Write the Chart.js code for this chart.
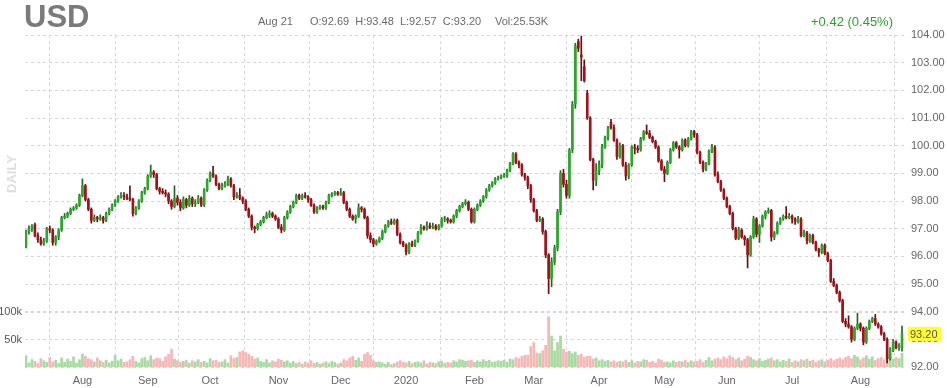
<!DOCTYPE html>
<html>
<head>
<meta charset="utf-8">
<script src="https://cdn.jsdelivr.net/npm/chart.js@4/dist/chart.umd.min.js"></script>
<style>
  html,body{margin:0;padding:0;background:#fff;}
  #wrap{width:947px;height:388px;position:relative;}
</style>
</head>
<body>
<div id="wrap"><canvas id="chart" width="947" height="388"></canvas></div>
<script>
// ── Data (daily candles, Jul 5 2019 → Aug 21 2020) ──
const symbol = 'USD';
const lastDate = 'Aug 21';
const monthNames  = ['Aug','Sep','Oct','Nov','Dec','2020','Feb','Mar','Apr','May','Jun','Jul','Aug'];
const monthStarts = [19,41,62,85,106,128,151,171,193,215,236,258,281];
const priceTicks  = [92,93,94,95,96,97,98,99,100,101,102,103,104];
const volTicks    = [50,100];

const opens = [
96.35,96.90,97.00,97.15,96.75,96.60,96.45,96.55,97.00,96.95,
96.50,96.70,96.95,97.40,97.45,97.55,97.70,97.75,97.85,98.20,
98.55,98.05,97.70,97.30,97.40,97.35,97.40,97.30,97.55,97.70,
97.85,98.00,98.15,98.20,98.15,98.10,98.05,97.55,97.75,98.00,
98.30,98.45,98.90,99.05,98.95,98.45,98.35,98.30,98.25,98.00,
97.80,98.10,97.95,97.75,98.05,97.85,98.10,97.90,97.95,98.10,
97.85,98.40,98.75,99.00,98.90,98.60,98.45,98.55,98.60,98.80,
98.55,98.15,98.20,98.10,98.00,97.70,97.45,97.05,97.00,97.15,
97.25,97.40,97.50,97.55,97.45,97.35,97.05,96.95,97.40,97.60,
97.80,97.95,98.20,98.10,98.20,98.15,98.05,97.85,97.60,97.75,
97.80,97.75,97.95,98.20,98.25,98.30,98.25,98.30,97.95,97.70,
97.45,97.35,97.45,97.75,97.70,97.40,96.75,96.60,96.45,96.55,
96.65,96.90,97.10,97.25,97.20,97.30,96.80,96.50,96.40,96.15,
96.45,96.40,96.55,96.85,97.05,97.00,97.10,97.05,97.10,97.00,
97.10,97.35,97.35,97.30,97.25,97.45,97.65,97.80,97.90,97.95,
97.70,97.25,97.70,97.85,98.00,98.15,98.40,98.55,98.65,98.80,
98.85,98.90,98.90,99.10,99.35,99.70,99.40,99.30,98.95,98.85,
98.55,98.05,97.65,97.30,97.35,96.90,96.05,95.20,95.80,96.30,
97.60,99.00,98.60,98.20,99.85,101.50,103.76,103.28,102.85,101.90,
101.00,99.50,98.75,99.10,99.30,99.95,100.30,100.85,100.65,100.20,
99.60,100.00,99.30,98.90,99.30,99.95,99.90,99.85,100.25,100.50,
100.45,100.30,100.15,99.95,99.45,99.15,99.00,99.40,99.85,100.10,
99.95,99.85,100.20,100.00,100.25,100.50,100.40,99.75,99.40,99.15,
99.35,99.80,99.95,98.95,98.70,98.40,98.10,97.80,97.55,97.00,
96.65,96.95,96.70,96.60,96.05,96.70,97.35,96.80,97.10,97.45,
97.60,97.65,96.70,96.85,97.20,97.35,97.45,97.40,97.45,97.35,
97.25,97.35,96.75,96.85,96.55,96.75,96.50,96.25,96.15,96.40,
96.10,95.85,95.10,94.95,94.70,94.40,93.65,93.55,93.45,93.00,
93.40,93.55,93.40,92.90,93.40,93.65,93.75,93.55,93.45,93.20,
93.00,92.30,92.60,92.90,92.70,92.69
];
const highs = [
96.95,97.10,97.15,97.20,96.85,96.70,96.65,97.05,97.10,97.00,
96.75,97.00,97.45,97.55,97.60,97.75,97.80,97.90,98.25,98.80,
98.60,98.10,97.75,97.50,97.45,97.50,97.45,97.60,97.75,97.90,
98.05,98.20,98.30,98.30,98.25,98.55,98.10,97.80,98.05,98.35,
98.50,98.95,99.30,99.10,99.00,98.50,98.45,98.40,98.30,98.05,
98.55,98.20,98.05,98.15,98.10,98.20,98.15,98.05,98.20,98.15,
98.45,98.80,99.05,99.25,98.95,98.65,98.65,98.70,98.90,98.85,
98.60,98.30,98.45,98.15,98.05,97.75,97.50,97.10,97.20,97.30,
97.45,97.60,97.65,97.60,97.50,97.40,97.15,97.45,97.65,97.85,
98.00,98.25,98.25,98.25,98.30,98.20,98.10,97.90,97.80,97.85,
97.85,98.00,98.25,98.30,98.35,98.35,98.45,98.35,98.00,97.75,
97.50,97.50,97.90,97.80,97.75,97.45,96.85,96.65,96.60,96.70,
96.95,97.15,97.30,97.35,97.35,97.35,96.85,96.55,96.45,96.50,
96.55,96.60,96.90,97.15,97.10,97.25,97.20,97.20,97.15,97.15,
97.40,97.45,97.40,97.35,97.50,97.70,97.85,97.95,98.05,98.00,
97.75,97.75,97.90,98.05,98.20,98.45,98.60,98.70,98.85,98.90,
98.95,99.00,99.15,99.40,99.75,99.75,99.45,99.35,99.00,98.90,
98.60,98.10,97.70,97.45,97.40,96.95,96.10,95.95,96.40,97.70,
99.10,99.15,98.75,99.90,101.60,103.70,103.85,103.96,103.10,102.00,
101.05,99.55,99.35,99.45,100.05,100.35,100.70,100.95,100.75,100.25,
100.10,100.05,99.40,99.35,100.00,100.05,100.00,100.30,100.55,100.75,
100.55,100.35,100.20,100.00,99.50,99.25,99.45,99.90,100.15,100.15,
100.00,100.25,100.25,100.30,100.55,100.55,100.45,99.80,99.45,99.40,
99.85,100.05,100.00,99.05,98.75,98.45,98.15,97.85,97.60,97.05,
97.05,97.00,96.75,96.65,96.75,97.45,97.40,97.15,97.50,97.65,
97.75,97.70,96.90,97.25,97.40,97.50,97.80,97.55,97.50,97.40,
97.45,97.40,96.95,96.90,96.80,96.80,96.55,96.30,96.45,96.45,
96.15,95.90,95.20,95.00,94.75,94.45,93.75,93.85,93.50,93.45,
93.95,93.60,93.45,93.45,93.70,93.80,93.90,93.60,93.50,93.25,
93.05,92.70,93.00,92.95,92.85,93.48
];
const lows = [
96.30,96.80,96.90,96.70,96.50,96.40,96.40,96.50,96.85,96.40,
96.40,96.60,96.90,97.35,97.40,97.50,97.65,97.70,97.80,98.15,
98.00,97.65,97.20,97.25,97.25,97.30,97.20,97.25,97.50,97.65,
97.80,97.95,98.10,98.05,98.05,98.00,97.45,97.50,97.70,97.95,
98.25,98.40,98.85,98.85,98.40,98.25,98.25,98.15,97.90,97.70,
97.75,97.85,97.65,97.70,97.75,97.80,97.80,97.80,97.90,97.80,
97.80,98.35,98.70,98.85,98.55,98.40,98.40,98.50,98.55,98.50,
98.05,98.10,98.05,97.90,97.65,97.40,96.95,96.85,96.95,97.10,
97.20,97.35,97.40,97.40,97.30,97.00,96.85,96.90,97.35,97.55,
97.75,97.90,98.05,98.05,98.10,97.95,97.80,97.55,97.55,97.70,
97.70,97.70,97.90,98.15,98.20,98.20,98.20,97.90,97.65,97.40,
97.30,97.20,97.40,97.60,97.35,96.65,96.50,96.35,96.40,96.50,
96.60,96.85,97.05,97.15,97.15,96.75,96.45,96.35,96.05,96.10,
96.35,96.35,96.50,96.80,96.95,96.95,97.00,97.00,96.95,96.95,
97.05,97.25,97.20,97.20,97.20,97.40,97.60,97.75,97.85,97.65,
97.20,97.20,97.65,97.80,97.95,98.10,98.35,98.50,98.60,98.75,
98.80,98.85,98.85,99.05,99.30,99.35,99.20,98.90,98.75,98.45,
97.95,97.60,97.25,97.25,96.80,95.95,94.65,94.90,95.70,96.20,
97.50,98.50,98.10,98.10,99.75,101.35,103.40,102.35,102.30,100.95,
99.45,98.40,98.55,98.95,99.20,99.90,100.20,100.60,100.15,99.50,
99.55,99.25,98.75,98.80,99.25,99.70,99.75,99.80,100.20,100.40,
100.25,100.10,99.90,99.40,99.10,98.70,98.95,99.35,99.80,99.90,
99.55,99.80,99.95,99.95,100.20,100.30,99.70,99.35,99.05,99.10,
99.30,99.75,98.90,98.65,98.35,98.05,97.75,97.50,96.95,96.60,
96.60,96.65,96.40,95.58,96.00,96.65,96.70,96.50,97.05,97.35,
97.55,96.55,96.60,96.80,97.15,97.30,97.35,97.35,97.20,97.15,
97.20,96.70,96.70,96.45,96.50,96.45,96.20,96.00,96.10,96.05,
95.80,95.05,94.90,94.65,94.35,93.60,93.45,93.40,92.90,92.95,
93.35,93.30,92.80,92.85,93.35,93.60,93.50,93.40,93.15,92.95,
92.15,92.25,92.55,92.65,92.60,92.57
];
const closes = [
96.90,97.00,97.10,96.75,96.60,96.45,96.55,97.00,96.95,96.50,
96.70,96.95,97.40,97.45,97.55,97.70,97.75,97.85,98.20,98.55,
98.05,97.70,97.30,97.40,97.35,97.40,97.30,97.55,97.70,97.85,
98.00,98.15,98.20,98.15,98.10,98.05,97.55,97.75,98.00,98.30,
98.45,98.90,99.05,98.95,98.45,98.35,98.30,98.25,98.00,97.80,
98.10,97.95,97.75,98.05,97.85,98.10,97.90,97.95,98.10,97.85,
98.40,98.75,99.00,98.90,98.60,98.45,98.55,98.60,98.80,98.55,
98.15,98.20,98.10,98.00,97.70,97.45,97.05,97.00,97.15,97.25,
97.40,97.50,97.55,97.45,97.35,97.05,96.95,97.40,97.60,97.80,
97.95,98.20,98.10,98.20,98.15,98.05,97.85,97.60,97.75,97.80,
97.75,97.95,98.20,98.25,98.30,98.25,98.30,97.95,97.70,97.45,
97.35,97.45,97.75,97.70,97.40,96.75,96.60,96.45,96.55,96.65,
96.90,97.10,97.25,97.20,97.30,96.80,96.50,96.40,96.15,96.45,
96.40,96.55,96.85,97.05,97.00,97.10,97.05,97.10,97.00,97.10,
97.35,97.35,97.30,97.25,97.45,97.65,97.80,97.90,97.95,97.70,
97.25,97.70,97.85,98.00,98.15,98.40,98.55,98.65,98.80,98.85,
98.90,98.90,99.10,99.35,99.70,99.40,99.30,98.95,98.85,98.55,
98.05,97.65,97.30,97.35,96.90,96.05,95.20,95.80,96.30,97.60,
99.00,98.60,98.20,99.85,101.50,103.60,103.52,103.20,102.35,101.00,
99.50,98.75,99.10,99.30,99.95,100.30,100.65,100.65,100.20,99.60,
100.00,99.30,98.90,99.30,99.95,99.90,99.85,100.25,100.50,100.45,
100.30,100.15,99.95,99.45,99.15,99.00,99.40,99.85,100.10,99.95,
99.85,100.20,100.00,100.25,100.50,100.40,99.75,99.40,99.15,99.35,
99.80,99.95,98.95,98.70,98.40,98.10,97.80,97.55,97.00,96.65,
96.95,96.70,96.60,96.05,96.70,97.35,96.80,97.10,97.45,97.60,
97.65,96.70,96.85,97.20,97.35,97.45,97.40,97.45,97.35,97.25,
97.35,96.75,96.85,96.55,96.75,96.50,96.25,96.15,96.40,96.10,
95.85,95.10,94.95,94.70,94.40,93.65,93.55,93.45,93.00,93.40,
93.55,93.40,92.90,93.40,93.65,93.75,93.55,93.45,93.20,93.00,
92.30,92.60,92.90,92.70,92.78,93.20
];
// volume in thousands
const volK = [
21,8,14,11,7,16,12,9,18,10,
13,7,17,9,15,11,19,8,14,24,
20,16,14,10,17,12,9,13,8,11,
22,12,15,9,10,14,20,11,8,16,
18,12,21,14,17,16,11,19,24,33,
15,12,9,11,13,8,12,10,14,9,
11,8,16,12,13,9,10,14,8,21,
16,18,28,30,27,24,20,15,17,11,
9,14,8,12,10,15,13,10,12,8,
11,7,9,6,10,8,12,7,9,6,
8,10,7,11,9,6,8,14,12,17,
20,13,17,11,24,27,22,12,9,10,
8,6,9,5,7,10,12,9,8,11,
7,9,10,8,12,6,9,8,7,10,
11,7,9,8,12,10,14,13,11,12,
13,9,12,10,14,11,13,9,10,12,
11,13,9,15,14,18,16,20,22,22,
38,45,26,25,30,40,92,57,30,45,
57,33,28,29,25,28,22,24,18,20,
20,15,17,12,14,11,13,10,12,9,
11,10,13,9,12,8,11,10,14,13,
9,11,8,15,13,9,10,8,12,9,
11,10,13,9,12,10,11,14,9,13,
18,12,15,17,14,19,16,21,18,14,
17,12,15,20,18,14,12,16,11,13,
15,17,12,14,10,13,11,15,9,12,
10,14,12,15,11,13,9,12,14,10,
13,16,12,15,17,14,18,20,16,22,
19,14,17,21,15,19,13,16,18,14,
20,24,15,18,16,25.53
];

// ── Styling ──
const FONT = '"Liberation Sans", Arial, sans-serif';
const UP = '#29a829', DOWN = '#a3121a';
const UP_WICK = '#1d6a1d', DOWN_WICK = '#6a0c0c';
const UP_VOL = '#a8dba2', DOWN_VOL = '#f6b7b7';
const GRID = '#d6d6d6';

const isUp = closes.map((c,i)=>c>=opens[i]);
const last = closes.length-1;

const overlay = {
  id:'overlay',
  afterDraw(chart){
    const ctx=chart.ctx;
    ctx.save();
    ctx.textBaseline='alphabetic';
    ctx.textAlign='left';
    ctx.fillStyle='#7a7a7a';
    ctx.font='bold 31px '+FONT;
    ctx.fillText(symbol,24,27);

    ctx.font='11px '+FONT;
    ctx.fillStyle='#6a6a6a';
    ctx.fillText(lastDate,258,25);
    ctx.fillText('O:'+opens[last].toFixed(2)+'  H:'+highs[last].toFixed(2)+'  L:'+lows[last].toFixed(2)+'  C:'+closes[last].toFixed(2),310,25);
    ctx.fillText('Vol:'+volK[last].toFixed(2)+'K',495,25);

    const chg=closes[last]-closes[last-1];
    const pct=chg/closes[last-1]*100;
    ctx.font='13px '+FONT;
    ctx.fillStyle='#2f9e2f';
    ctx.textAlign='right';
    ctx.fillText((chg>=0?'+':'')+chg.toFixed(2)+' ('+pct.toFixed(2)+'%)',893,26);

    // vertical DAILY tag
    ctx.save();
    ctx.translate(12,174);
    ctx.rotate(-Math.PI/2);
    ctx.textAlign='center';
    ctx.textBaseline='middle';
    ctx.font='bold 13px '+FONT;
    ctx.fillStyle='#dedede';
    ctx.fillText('DAILY',0,0);
    ctx.restore();

    // last price badge
    const py=chart.scales.y.getPixelForValue(closes[last]);
    ctx.fillStyle='#ffff2e';
    ctx.fillRect(908,py-7,33,14);
    ctx.fillStyle='#555';
    ctx.textAlign='left';
    ctx.textBaseline='middle';
    ctx.font='11px '+FONT;
    ctx.fillText(closes[last].toFixed(2),910,py+1);
    ctx.restore();
  }
};

new Chart(document.getElementById('chart'),{
  type:'bar',
  data:{
    datasets:[
      {
        label:'Volume',
        data:volK.map((v,i)=>({x:i,y:v})),
        yAxisID:'yVol',
        backgroundColor:isUp.map(u=>u?UP_VOL:DOWN_VOL),
        barPercentage:1,categoryPercentage:0.92,
        grouped:false,order:3
      },
      {
        label:'Wick',
        data:highs.map((h,i)=>({x:i,y:[lows[i],h]})),
        yAxisID:'y',
        backgroundColor:isUp.map(u=>u?UP_WICK:DOWN_WICK),
        barThickness:1,grouped:false,order:2
      },
      {
        label:'Body',
        data:opens.map((o,i)=>({x:i,y:[Math.min(o,closes[i]),Math.max(o,closes[i])]})),
        yAxisID:'y',
        backgroundColor:isUp.map(u=>u?UP:DOWN),
        barThickness:2,minBarLength:1,grouped:false,order:1
      }
    ]
  },
  options:{
    responsive:false,
    animation:false,
    devicePixelRatio:1,
    layout:{padding:{top:35,left:0,right:0,bottom:0}},
    plugins:{legend:{display:false},tooltip:{enabled:false}},
    scales:{
      x:{
        type:'linear',
        min:-0.34,max:296.01,
        offset:false,
        afterBuildTicks:s=>{s.ticks=monthStarts.map(v=>({value:v}));},
        afterFit:s=>{s.height=21;},
        ticks:{
          autoSkip:false,maxRotation:0,padding:7,
          color:'#666',font:{family:FONT,size:11},
          callback:v=>monthNames[monthStarts.indexOf(v)]
        },
        grid:{color:GRID,drawTicks:false},
        border:{display:false,dash:[3,3]}
      },
      y:{
        type:'linear',position:'right',
        min:92,max:104,
        afterBuildTicks:s=>{s.ticks=priceTicks.map(v=>({value:v}));},
        afterFit:s=>{s.width=42;},
        ticks:{padding:6,color:'#666',font:{family:FONT,size:11},callback:v=>v.toFixed(2)},
        grid:{color:GRID,drawTicks:false},
        border:{display:false,dash:[3,3]}
      },
      yVol:{
        type:'linear',position:'left',
        min:0,max:604,
        afterBuildTicks:s=>{s.ticks=volTicks.map(v=>({value:v}));},
        afterFit:s=>{s.width=25;},
        ticks:{padding:3,color:'#555',font:{family:FONT,size:11},callback:v=>v+'k'},
        grid:{color:GRID,drawTicks:false},
        border:{display:false,dash:[3,3]}
      }
    }
  },
  plugins:[overlay]
});
</script>
</body>
</html>
